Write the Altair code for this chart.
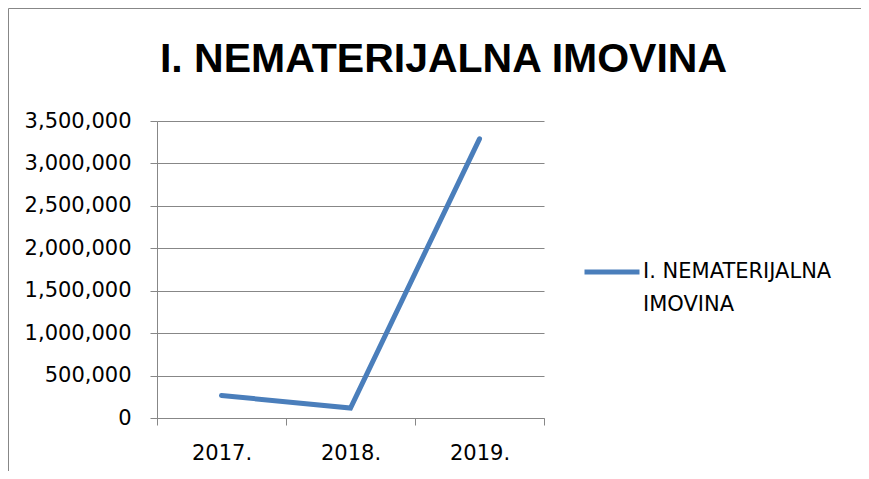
import altair as alt
import pandas as pd

# ---- data ----
years = ["2017.", "2018.", "2019."]
values = [265000, 118000, 3290000]
series_name = "I. NEMATERIJALNA IMOVINA"
y_ticks = [0, 500000, 1000000, 1500000, 2000000, 2500000, 3000000, 3500000]

df = pd.DataFrame({"godina": years, "iznos": values, "serija": [series_name] * len(years)})

# ---- layout ----
PL, PT = 149, 113      # plot origin inside the canvas
W, H = 387, 297        # plot area
CANVAS_W, CANVAS_H = 853, 463
PR = CANVAS_W - PL - W
PB = CANVAS_H - PT - H

GREY = "#878787"
BLUE = "#4A7EBB"
FONT = "DejaVu Sans"

line = alt.Chart(df).mark_line(strokeWidth=5, strokeCap="round").encode(
    x=alt.X(
        "godina:N",
        sort=years,
        scale=alt.Scale(type="band", paddingInner=0, paddingOuter=0),
        axis=alt.Axis(
            title=None, labelAngle=0, tickBand="extent", tickSize=7,
            labelPadding=17, domainColor=GREY, tickColor=GREY, grid=False,
        ),
    ),
    y=alt.Y(
        "iznos:Q",
        scale=alt.Scale(domain=[0, 3500000], nice=False, zero=True),
        axis=alt.Axis(
            title=None, values=y_ticks, format=",d", tickSize=7, labelPadding=19,
            domainColor=GREY, tickColor=GREY, grid=True, gridColor=GREY,
        ),
    ),
    color=alt.Color(
        "serija:N",
        scale=alt.Scale(range=[BLUE]),
        legend=alt.Legend(
            title=None, orient="none", legendX=425, legendY=121,
            symbolType="stroke", symbolSize=3025, symbolStrokeWidth=5,
            labelOffset=1, padding=0, labelLimit=400,
            labelExpr="[substring(datum.label, 0, 16), substring(datum.label, 17)]",
        ),
    ),
)

frame = alt.Chart(pd.DataFrame({"f": [0]})).mark_rect(
    fillOpacity=0, stroke=GREY, strokeWidth=1, clip=False
).encode(
    x=alt.value(-148.5), x2=alt.value(740), y=alt.value(-112.5), y2=alt.value(420)
)

chart = alt.layer(frame, line).properties(
    width=W,
    height=H,
    title=alt.TitleParams(
        series_name, anchor="middle", frame="group", baseline="alphabetic",
        offset=-105, dx=93, font="Liberation Sans", fontSize=41, fontWeight="bold",
        color="#000000",
    ),
    padding={"left": PL, "top": PT, "right": PR, "bottom": PB},
    autosize=alt.AutoSizeParams(type="none"),
).configure(
    style={"guide-label": {"lineHeight": 33}}
).configure_view(
    strokeOpacity=0
).configure_axis(
    labelFont=FONT, labelFontSize=21, labelColor="#000000",
).configure_legend(
    labelFont=FONT, labelFontSize=21, labelColor="#000000",
)

chart.save("out.html", embed_options={"renderer": "svg", "actions": False})
